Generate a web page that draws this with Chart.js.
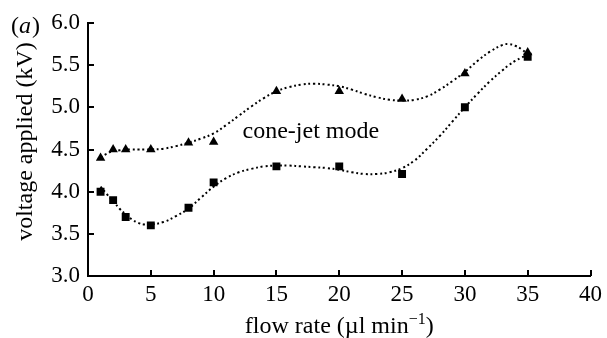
<!DOCTYPE html>
<html><head><meta charset="utf-8">
<script src="https://cdn.jsdelivr.net/npm/chart.js@4"></script>
<style>html,body{margin:0;padding:0;background:#fff}#wrap{width:607px;height:338px;position:relative}</style>
</head><body><div id="wrap"><canvas id="c"></canvas></div>
<script>
// Measured data points
const flowRate = [1, 2, 3, 5, 8, 10, 15, 20, 25, 30, 35];
const voltageTriangle = [4.4, 4.5, 4.5, 4.5, 4.58, 4.59, 5.19, 5.19, 5.1, 5.4, 5.65];
const voltageSquare = [4.0, 3.9, 3.7, 3.6, 3.81, 4.11, 4.3, 4.3, 4.21, 5.0, 5.6];
// Fitted (dotted) curves
const fitX = [1,1.5,2,2.5,3,3.5,4,4.5,5,6,7,8,9,10,11,12,13,14,15,16,17,18,19,20,21,22,23,24,25,26,27,28,29,30,31,32,33,33.5,34,34.5,35];
const fitTriangle = [4.41,4.45,4.48,4.49,4.50,4.50,4.50,4.50,4.50,4.51,4.54,4.58,4.63,4.69,4.79,4.90,5.01,5.11,5.19,5.24,5.27,5.28,5.27,5.25,5.21,5.16,5.12,5.09,5.08,5.09,5.13,5.21,5.31,5.42,5.55,5.66,5.74,5.75,5.73,5.69,5.63];
const fitSquare = [4.06,3.97,3.89,3.80,3.73,3.67,3.63,3.61,3.61,3.64,3.71,3.80,3.93,4.06,4.16,4.23,4.27,4.30,4.31,4.31,4.30,4.29,4.28,4.26,4.23,4.21,4.21,4.23,4.28,4.37,4.51,4.66,4.83,5.00,5.16,5.31,5.44,5.50,5.55,5.59,5.62];
const xTicks = [0, 5, 10, 15, 20, 25, 30, 35, 40];
const yTicks = [3.0, 3.5, 4.0, 4.5, 5.0, 5.5, 6.0];
const xTitle = 'flow rate (µl min';
const xTitleSup = '−1';
const yTitle = 'voltage applied (kV)';
const panelLabel = 'a';
const annotationText = 'cone-jet mode';
const annotationPos = {x: 12.3, y: 4.64};

const FONT = '"Liberation Serif", "Times New Roman", Times, serif';
const pts = (xs, ys) => xs.map((x, i) => ({x, y: ys[i]}));
const f = (sz, st) => (st ? st + ' ' : '') + sz + 'px ' + FONT;

const decor = {
  id: 'decor',
  afterDraw(chart) {
    const {ctx, chartArea: a, scales: {x, y}} = chart;
    ctx.save();
    ctx.strokeStyle = '#000';
    ctx.lineWidth = 2;
    ctx.beginPath();
    xTicks.forEach(v => { if (v === 0) return; const px = Math.round(x.getPixelForValue(v)); ctx.moveTo(px, a.bottom); ctx.lineTo(px, a.bottom - 6); });
    yTicks.forEach(v => { if (v === 3.0) return; const py = Math.round(y.getPixelForValue(v)); ctx.moveTo(a.left, py); ctx.lineTo(a.left + 6, py); });
    ctx.stroke();
    ctx.fillStyle = '#000';
    ctx.textBaseline = 'alphabetic';
    // annotation
    ctx.font = f(24);
    ctx.textAlign = 'left';
    ctx.fillText(annotationText, x.getPixelForValue(annotationPos.x), y.getPixelForValue(annotationPos.y));
    // x title with superscript
    const main = xTitle, sup = xTitleSup, close = ')';
    ctx.font = f(24);
    const w1 = ctx.measureText(main).width, w3 = ctx.measureText(close).width;
    ctx.font = f(16);
    const w2 = ctx.measureText(sup).width;
    const cx = (a.left + a.right) / 2;
    const sx = cx - (w1 + w2 + w3) / 2;
    const base = a.bottom + 57;
    ctx.font = f(24);
    ctx.fillText(main, sx, base);
    ctx.font = f(16);
    ctx.fillText(sup, sx + w1, base - 9);
    ctx.font = f(24);
    ctx.fillText(close, sx + w1 + w2, base);
    // y title
    ctx.save();
    ctx.translate(a.left - 56, (a.top + a.bottom) / 2 - 8);
    ctx.rotate(-Math.PI / 2);
    ctx.textAlign = 'center';
    ctx.font = f(24);
    ctx.fillText(yTitle, 0, 0);
    ctx.restore();
    // panel label (a)
    ctx.font = f(24);
    ctx.textAlign = 'left';
    const lx = a.left - 77, ly = a.top + 10;
    const wo = ctx.measureText('(').width;
    ctx.fillText('(', lx, ly);
    ctx.font = f(24, 'italic');
    const wa = ctx.measureText(panelLabel).width;
    ctx.fillText(panelLabel, lx + wo, ly);
    ctx.font = f(24);
    ctx.fillText(')', lx + wo + wa + 1, ly);
    ctx.restore();
  }
};

const dotted = {borderColor: '#000', borderWidth: 2, borderDash: [2, 2.8], pointRadius: 0, showLine: true, tension: 0.4, fill: false};

new Chart(document.getElementById('c'), {
  type: 'scatter',
  data: {
    datasets: [
      Object.assign({data: pts(fitX, fitTriangle)}, dotted),
      Object.assign({data: pts(fitX, fitSquare)}, dotted),
      {data: pts(flowRate, voltageTriangle), pointStyle: 'triangle', pointRadius: 5.5, backgroundColor: '#000', borderColor: '#000', borderWidth: 0, showLine: false},
      {data: pts(flowRate, voltageSquare), pointStyle: 'rect', pointRadius: 5.6, backgroundColor: '#000', borderColor: '#000', borderWidth: 0, showLine: false}
    ]
  },
  options: {
    responsive: true, maintainAspectRatio: false, animation: false,
    layout: {padding: {left: 0, right: 14, top: 23, bottom: 0}},
    plugins: {legend: {display: false}, tooltip: {enabled: false}},
    scales: {
      x: {
        type: 'linear', min: 0, max: 40,
        afterBuildTicks: s => { s.ticks = xTicks.map(v => ({value: v})); },
        ticks: {color: '#000', font: {family: FONT, size: 23}, padding: 5, maxRotation: 0, autoSkip: false},
        grid: {display: false, drawTicks: false},
        border: {display: true, color: '#000', width: 2},
        afterFit: s => { s.height = 62; }
      },
      y: {
        type: 'linear', min: 3, max: 6,
        afterBuildTicks: s => { s.ticks = yTicks.map(v => ({value: v})); },
        ticks: {color: '#000', font: {family: FONT, size: 23}, padding: 8, callback: v => v.toFixed(1), autoSkip: false},
        grid: {display: false, drawTicks: false},
        border: {display: true, color: '#000', width: 2},
        afterFit: s => { s.width = 88; }
      }
    }
  },
  plugins: [decor]
});
</script>
</body></html>
